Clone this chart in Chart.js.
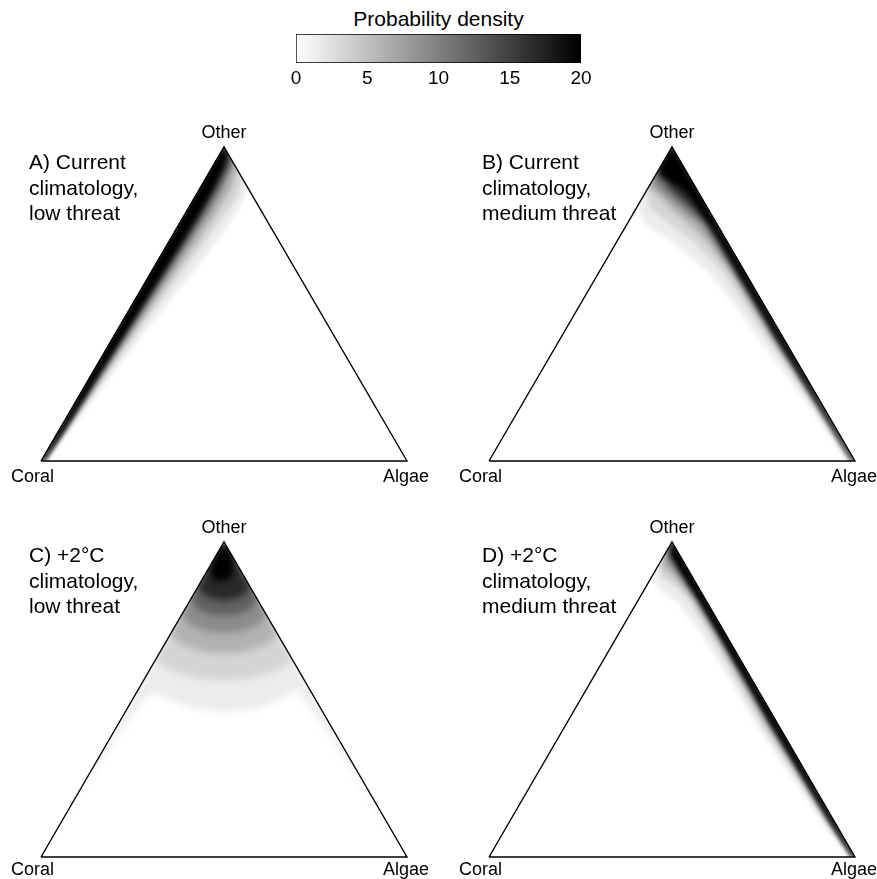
<!DOCTYPE html>
<html>
<head>
<meta charset="utf-8">
<script src="https://cdn.jsdelivr.net/npm/chart.js@4.4.1/dist/chart.umd.min.js"></script>
<style>
  body { margin: 0; background: #fff; }
  #page { position: relative; width: 877px; height: 879px; overflow: hidden;
          font-family: "Liberation Sans", Arial, sans-serif; color: #000; }
  canvas { position: absolute; }
  .lbl { position: absolute; white-space: nowrap; line-height: 1.2; }
</style>
</head>
<body>
<div id="page"></div>
<script>
// density levels (contour lines), colour bar ticks
const densityLevels = [1, 2.5, 5, 8, 11, 15, 20];
const cbTicks = [0, 5, 10, 15, 20];
const cbTitle = 'Probability density';

// composition corners as [algae, other]; coral = 1 - algae - other
const vertexNames = ['Coral', 'Algae', 'Other'];
const corners = [[0, 0], [1, 0], [0, 1]];

const titlesA = ['A) Current', 'climatology,', 'low threat'];
const titlesB = ['B) Current', 'climatology,', 'medium threat'];
const titlesC = ['C) +2°C', 'climatology,', 'low threat'];
const titlesD = ['D) +2°C', 'climatology,', 'medium threat'];

// contour polygons, one per density level, vertices as [algae, other]
const contoursA = [
  [[0,0],[0,1],[0.13,0.87],[0.14,0.8],[0.13,0.7],[0.115,0.6],[0.095,0.5],[0.077,0.4],[0.06,0.3],[0.045,0.2],[0.03,0.1],[0.016,0]],
  [[0,0],[0,1],[0.1,0.9],[0.115,0.84],[0.105,0.76],[0.095,0.68],[0.084,0.6],[0.07,0.5],[0.057,0.4],[0.045,0.3],[0.034,0.2],[0.023,0.1],[0.012,0]],
  [[0,0],[0,1],[0.07,0.93],[0.085,0.88],[0.086,0.82],[0.078,0.7],[0.067,0.6],[0.056,0.5],[0.046,0.4],[0.037,0.3],[0.028,0.2],[0.019,0.1],[0.01,0]],
  [[0,0],[0,1],[0.05,0.95],[0.057,0.92],[0.065,0.88],[0.066,0.8],[0.06,0.7],[0.053,0.6],[0.046,0.5],[0.038,0.4],[0.031,0.3],[0.024,0.2],[0.017,0.1],[0.008,0]],
  [[0,0],[0,1],[0.04,0.96],[0.048,0.94],[0.053,0.88],[0.054,0.8],[0.05,0.7],[0.044,0.6],[0.038,0.5],[0.032,0.4],[0.026,0.3],[0.02,0.2],[0.015,0.1],[0.007,0]],
  [[0,0],[0,1],[0.03,0.97],[0.037,0.94],[0.042,0.88],[0.044,0.8],[0.041,0.7],[0.037,0.6],[0.032,0.5],[0.027,0.4],[0.022,0.3],[0.017,0.2],[0.013,0.1],[0.005,0]],
  [[0,0],[0,1],[0.02,0.97],[0.028,0.94],[0.034,0.88],[0.036,0.8],[0.034,0.7],[0.031,0.6],[0.027,0.5],[0.023,0.4],[0.019,0.3],[0.015,0.2],[0.011,0.1],[0.004,0]]
];
const contoursB = [
  [[1,0],[0,1],[0,0.81],[0.05,0.753],[0.15,0.7],[0.3,0.6],[0.42,0.5],[0.53,0.4],[0.645,0.3],[0.76,0.2],[0.98,0]],
  [[1,0],[0,1],[0,0.86],[0.04,0.804],[0.12,0.753],[0.21,0.7],[0.34,0.6],[0.45,0.5],[0.555,0.4],[0.665,0.3],[0.774,0.2],[0.987,0]],
  [[1,0],[0,1],[0,0.87],[0.02,0.858],[0.095,0.804],[0.17,0.753],[0.245,0.7],[0.36,0.6],[0.465,0.5],[0.568,0.4],[0.675,0.3],[0.781,0.2],[0.99,0]],
  [[1,0],[0,1],[0,0.885],[0.04,0.858],[0.12,0.804],[0.2,0.753],[0.26,0.7],[0.369,0.6],[0.472,0.5],[0.574,0.4],[0.68,0.3],[0.785,0.2],[0.993,0]],
  [[1,0],[0,1],[0,0.905],[0.06,0.858],[0.14,0.804],[0.215,0.753],[0.27,0.7],[0.374,0.6],[0.477,0.5],[0.578,0.4],[0.683,0.3],[0.788,0.2],[0.994,0]],
  [[1,0],[0,1],[0,0.92],[0.08,0.858],[0.16,0.804],[0.222,0.753],[0.278,0.7],[0.378,0.6],[0.481,0.5],[0.582,0.4],[0.686,0.3],[0.79,0.2],[0.996,0]],
  [[1,0],[0,1],[0,0.935],[0.016,0.91],[0.11,0.858],[0.17,0.804],[0.228,0.753],[0.282,0.7],[0.382,0.6],[0.484,0.5],[0.585,0.4],[0.688,0.3],[0.792,0.2],[0.997,0]]
];
const contoursC = [
  [[0,1],[0,0.1],[0.008,0.25],[0.018,0.4],[0.035,0.52],[0.075,0.51],[0.1725,0.475],[0.27,0.46],[0.3675,0.475],[0.415,0.51],[0.43,0.535],[0.57,0.41],[0.74,0.25],[0.895,0.1],[0.9,0.1]],
  [[0,1],[0,0.625],[0.0699,0.5883],[0.145,0.5671],[0.22,0.56],[0.2878,0.5671],[0.3418,0.5883],[0.375,0.625]],
  [[0,1],[0,0.705],[0.0559,0.6711],[0.1167,0.6515],[0.1775,0.645],[0.2317,0.6515],[0.2729,0.6711],[0.295,0.705]],
  [[0,1],[0,0.765],[0.0452,0.734],[0.0951,0.716],[0.145,0.71],[0.1889,0.716],[0.2208,0.734],[0.235,0.765]],
  [[0,1],[0,0.815],[0.0362,0.7868],[0.0769,0.7704],[0.1175,0.765],[0.1527,0.7704],[0.177,0.7868],[0.185,0.815]],
  [[0,1],[0,0.855],[0.0285,0.8324],[0.0605,0.8194],[0.0925,0.815],[0.1201,0.8194],[0.1391,0.8324],[0.145,0.855]],
  [[0,1],[0,0.925],[0.02,0.89],[0.045,0.875],[0.07,0.88],[0.075,0.9],[0.06,0.93],[0.04,0.96]]
];
const contoursD = [
  [[1,0],[0,1],[0,0.9],[0.04,0.85],[0.11,0.81],[0.235,0.7],[0.39,0.55],[0.51,0.43],[0.65,0.3],[0.76,0.2],[0.845,0.12],[0.983,0]],
  [[1,0],[0,1],[0,0.93],[0.025,0.89],[0.08,0.86],[0.135,0.82],[0.258,0.7],[0.407,0.55],[0.526,0.43],[0.664,0.3],[0.771,0.2],[0.855,0.12],[0.988,0]],
  [[1,0],[0,1],[0,0.95],[0.015,0.92],[0.06,0.89],[0.145,0.82],[0.268,0.7],[0.417,0.55],[0.536,0.43],[0.672,0.3],[0.777,0.2],[0.86,0.12],[0.991,0]],
  [[1,0],[0,1],[0,0.965],[0.015,0.94],[0.063,0.9],[0.153,0.82],[0.275,0.7],[0.424,0.55],[0.543,0.43],[0.678,0.3],[0.781,0.2],[0.864,0.12],[0.993,0]],
  [[1,0],[0,1],[0,0.975],[0.02,0.945],[0.07,0.9],[0.158,0.82],[0.28,0.7],[0.429,0.55],[0.548,0.43],[0.682,0.3],[0.784,0.2],[0.867,0.12],[0.994,0]],
  [[1,0],[0,1],[0.015,0.96],[0.076,0.9],[0.161,0.82],[0.282,0.7],[0.432,0.55],[0.551,0.43],[0.684,0.3],[0.787,0.2],[0.869,0.12],[0.995,0]],
  [[1,0],[0,1],[0.02,0.96],[0.08,0.9],[0.164,0.82],[0.285,0.7],[0.435,0.55],[0.554,0.43],[0.687,0.3],[0.789,0.2],[0.871,0.12],[0.996,0]]
];

// page layout (pixels)
const panels = [
  { titles: titlesA, contours: contoursA, left: 41,  right: 407, top: 147, base: 461, titleX: 29,  titleY: 149, labelY: 466, soften: 2 },
  { titles: titlesB, contours: contoursB, left: 489, right: 855, top: 147, base: 461, titleX: 482, titleY: 149, labelY: 466, soften: 2.5 },
  { titles: titlesC, contours: contoursC, left: 41,  right: 407, top: 542, base: 857, titleX: 29,  titleY: 542, labelY: 859, soften: 3.5 },
  { titles: titlesD, contours: contoursD, left: 489, right: 855, top: 542, base: 857, titleX: 482, titleY: 542, labelY: 859, soften: 2 }
];
const PAD = 12;
const SQ = Math.sqrt(3) / 2;
const FONT = '"Liberation Sans", Arial, sans-serif';

Chart.defaults.font.family = FONT;
Chart.defaults.color = '#000';

const page = document.getElementById('page');

const toXY = p => ({ x: p[0] + p[1] / 2, y: p[1] * SQ });

function shade(v) {
  const g = Math.round(255 * (1 - Math.min(v, 20) / 20));
  return 'rgb(' + g + ',' + g + ',' + g + ')';
}

// band between two contour lines: a bit above its lower level
function bandShade(i) {
  const lo = densityLevels[i], hi = densityLevels[i + 1];
  return shade(hi === undefined ? lo : lo + 0.35 * (hi - lo));
}

function addText(txt, left, top, size, align) {
  const d = document.createElement('div');
  d.className = 'lbl';
  d.style.fontSize = size + 'px';
  d.style.top = top + 'px';
  if (align === 'center') { d.style.left = (left - 150) + 'px'; d.style.width = '300px'; d.style.textAlign = 'center'; }
  else if (align === 'right') { d.style.right = (877 - left) + 'px'; }
  else d.style.left = left + 'px';
  d.innerHTML = txt;
  page.appendChild(d);
  return d;
}

// soften the contour fills a little and keep them inside the triangle
const softFill = {
  id: 'softFill',
  beforeDraw(chart, args, opts) {
    const { ctx, scales } = chart;
    const pts = corners.map(toXY);
    ctx.save();
    ctx.beginPath();
    pts.forEach((p, i) => {
      const px = scales.x.getPixelForValue(p.x), py = scales.y.getPixelForValue(p.y);
      if (i === 0) ctx.moveTo(px, py); else ctx.lineTo(px, py);
    });
    ctx.closePath();
    ctx.clip();
    ctx.filter = 'blur(' + (opts.radius || 2) + 'px)';
  },
  beforeDatasetsDraw(chart) {
    chart.ctx.restore();
  }
};

panels.forEach(p => {
  const w = p.right - p.left, h = p.base - p.top;
  const cv = document.createElement('canvas');
  cv.width = w + 2 * PAD;
  cv.height = h + 2 * PAD;
  cv.style.left = (p.left - PAD) + 'px';
  cv.style.top = (p.top - PAD) + 'px';
  page.appendChild(cv);

  const sets = p.contours.map((poly, i) => ({
    data: poly.map(toXY),
    showLine: true,
    fill: 'shape',
    backgroundColor: bandShade(i),
    borderColor: 'rgba(0,0,0,0)',
    borderWidth: 0,
    order: densityLevels.length - i + 1
  }));
  sets.push({
    data: corners.concat([corners[0]]).map(toXY),
    showLine: true,
    fill: false,
    borderColor: '#000',
    borderWidth: 1.4,
    clip: false,
    order: 0
  });

  new Chart(cv, {
    type: 'scatter',
    data: { datasets: sets },
    options: {
      responsive: false,
      animation: false,
      events: [],
      layout: { padding: PAD },
      scales: {
        x: { type: 'linear', min: 0, max: 1, display: false },
        y: { type: 'linear', min: 0, max: SQ, display: false }
      },
      plugins: {
        legend: { display: false },
        tooltip: { enabled: false },
        filler: { drawTime: 'beforeDatasetsDraw' },
        softFill: { radius: p.soften }
      },
      elements: {
        point: { radius: 0 },
        line: { tension: 0 }
      }
    },
    plugins: [softFill]
  });

  // vertex names and panel title
  addText(vertexNames[2], (p.left + p.right) / 2, p.top - 25, 18, 'center');
  addText(vertexNames[0], p.left - 30, p.labelY, 18, 'left');
  addText(vertexNames[1], p.right + 22, p.labelY, 18, 'right');
  const t = addText(p.titles.join('<br>'), p.titleX, p.titleY, 21, 'left');
  t.style.lineHeight = '25.5px';
});

// colour bar
addText(cbTitle, 438.5, 6, 21, 'center');
const cb = document.createElement('canvas');
cb.width = 320;
cb.height = 70;
cb.style.left = '280px';
cb.style.top = '25px';
page.appendChild(cb);

new Chart(cb, {
  type: 'bar',
  data: {
    labels: ['density'],
    datasets: [{
      data: [[cbTicks[0], cbTicks[cbTicks.length - 1]]],
      backgroundColor: c => {
        const ch = c.chart, a = ch.chartArea;
        if (!a) return '#888';
        const x = ch.scales.x;
        const g = ch.ctx.createLinearGradient(a.left, 0, a.right, 0);
        cbTicks.forEach(v => g.addColorStop((x.getPixelForValue(v) - a.left) / (a.right - a.left), shade(v)));
        return g;
      },
      borderColor: '#000',
      borderWidth: 1,
      borderSkipped: false,
      barPercentage: 1,
      categoryPercentage: 1
    }]
  },
  options: {
    indexAxis: 'y',
    responsive: false,
    animation: false,
    events: [],
    layout: { padding: { left: 16, right: 19, top: 9, bottom: 3 } },
    scales: {
      x: {
        type: 'linear', min: 0, max: 20, position: 'bottom',
        grid: { display: false, drawTicks: false },
        border: { display: false },
        afterBuildTicks: s => { s.ticks = cbTicks.map(v => ({ value: v })); },
        ticks: { padding: 4, color: '#000', font: { size: 19 } }
      },
      y: { display: false }
    },
    plugins: { legend: { display: false }, tooltip: { enabled: false } }
  }
});
</script>
</body>
</html>
